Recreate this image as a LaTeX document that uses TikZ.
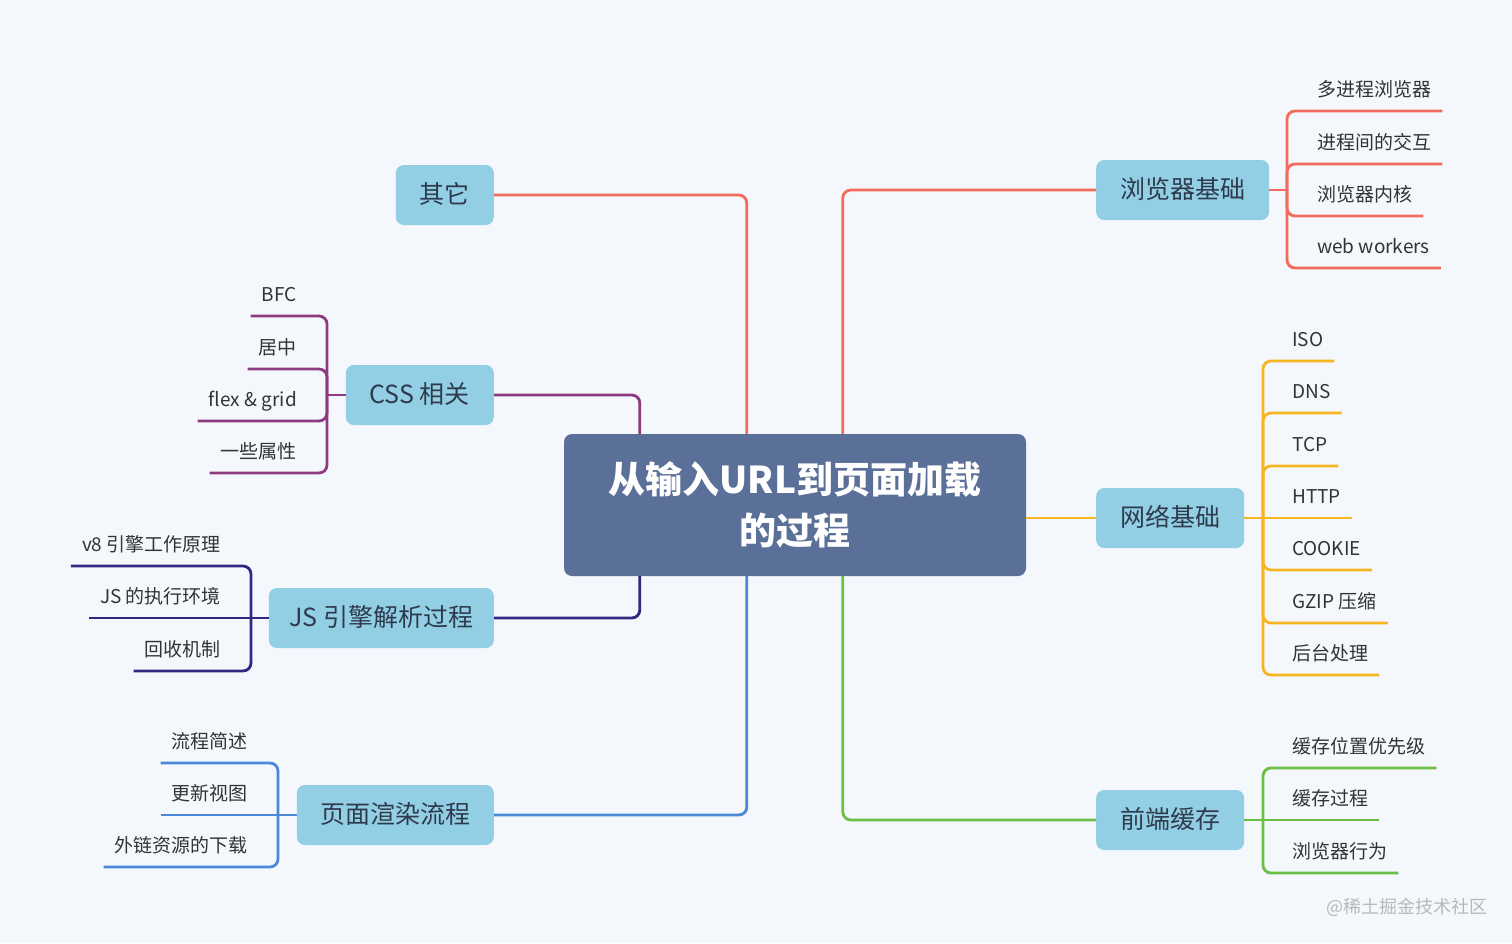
\documentclass[tikz,border=0pt]{standalone}
\usepackage{fontspec}
\setmainfont{Noto Sans CJK SC}
\definecolor{bgcol}{HTML}{F4F8FD}
\definecolor{rootfill}{HTML}{5A7098}
\definecolor{topicfill}{HTML}{92CFE5}
\definecolor{topictext}{HTML}{2F3B4D}
\definecolor{leaftext}{HTML}{333333}
\definecolor{redline}{HTML}{F26B5B}
\definecolor{cssline}{HTML}{8E3A80}
\definecolor{jsline}{HTML}{34267F}
\definecolor{blueline}{HTML}{4A89D6}
\definecolor{orangeline}{HTML}{F7B521}
\definecolor{greenline}{HTML}{6CBF45}
\definecolor{wmark}{HTML}{B8B8B8}
\begin{document}
\begin{tikzpicture}[x=1pt, y=-1pt,
    rootbox/.style={fill=rootfill, rounded corners=8pt, text=white, align=center,
        minimum width=462pt, minimum height=142pt, font=\bfseries\fontsize{37}{51}\selectfont},
    topic/.style={fill=topicfill, rounded corners=8pt, text=topictext, inner xsep=16pt, inner ysep=0pt,
        minimum height=60pt, text height=21pt, text depth=4pt, font=\fontsize{25}{30}\selectfont},
    leaf/.style={text=leaftext, inner xsep=11pt, inner ysep=9pt, text height=16pt, text depth=5pt,
        font=\fontsize{19}{23}\selectfont},
    branch/.style={line width=2.8pt, rounded corners=8pt}]
    \fill[bgcol] (0,0) rectangle (1512,943);
    \useasboundingbox (0,0) rectangle (1512,943);
    % centre
    \node[rootbox] (root) at (795,505) {从输入URL到页面加载\\的过程};
    % topics
    \node[topic, anchor=east, minimum width=98pt] (qita) at (494,195) {其它};
    \node[topic, anchor=east, minimum width=148pt] (css) at (494,395) {CSS 相关};
    \node[topic, anchor=east, minimum width=225pt] (js) at (494,618) {JS 引擎解析过程};
    \node[topic, anchor=east, minimum width=197pt] (xuanran) at (494,815) {页面渲染流程};
    \node[topic, anchor=west, minimum width=173pt] (llq) at (1096,190) {浏览器基础};
    \node[topic, anchor=west, minimum width=148pt] (wangluo) at (1096,518) {网络基础};
    \node[topic, anchor=west, minimum width=148pt] (huancun) at (1096,820) {前端缓存};
    \draw[branch, redline] (qita.east) -| ([xshift=183pt]root.north west);
    \draw[branch, redline] (llq.west) -| ([xshift=279pt]root.north west);
    \draw[branch, cssline] (css.east) -| ([xshift=76pt]root.north west);
    \draw[branch, jsline] (js.east) -| ([xshift=76pt]root.south west);
    \draw[branch, blueline] (xuanran.east) -| ([xshift=183pt]root.south west);
    \draw[branch, greenline] (huancun.west) -| ([xshift=279pt]root.south west);
    \draw[branch, orangeline] (wangluo.west) -- (wangluo.west -| root.east);
    % forks
    \coordinate (llqf) at (1287,190);
    \coordinate (wlf) at (1263,518);
    \coordinate (hcf) at (1263,820);
    \coordinate (cssf) at (327,395);
    \coordinate (jsf) at (251,618);
    \coordinate (xrf) at (278,815);
    % 浏览器基础
    \node[leaf, anchor=south west] (b1) at (1306,111) {多进程浏览器};
    \node[leaf, anchor=south west] (b2) at (1306,164) {进程间的交互};
    \node[leaf, anchor=south west] (b3) at (1306,216) {浏览器内核};
    \node[leaf, anchor=south west] (b4) at (1306,268) {web workers};
    \draw[branch, redline] (llq.east) -- (llqf);
    \draw[branch, redline] (llqf) |- (b1.south east);
    \draw[branch, redline] (llqf) |- (b2.south east);
    \draw[branch, redline] (llqf) |- (b3.south east);
    \draw[branch, redline] (llqf) |- (b4.south east);
    % 网络基础
    \node[leaf, anchor=south west] (n1) at (1281,361) {ISO};
    \node[leaf, anchor=south west] (n2) at (1281,413) {DNS};
    \node[leaf, anchor=south west] (n3) at (1281,466) {TCP};
    \node[leaf, anchor=south west] (n4) at (1281,518) {HTTP};
    \node[leaf, anchor=south west] (n5) at (1281,570) {COOKIE};
    \node[leaf, anchor=south west] (n6) at (1281,623) {GZIP 压缩};
    \node[leaf, anchor=south west] (n7) at (1281,675) {后台处理};
    \draw[branch, orangeline] (wangluo.east) -- (wlf);
    \draw[branch, orangeline] (wlf) |- (n1.south east);
    \draw[branch, orangeline] (wlf) |- (n2.south east);
    \draw[branch, orangeline] (wlf) |- (n3.south east);
    \draw[branch, orangeline] (wlf) -- (n4.south east);
    \draw[branch, orangeline] (wlf) |- (n5.south east);
    \draw[branch, orangeline] (wlf) |- (n6.south east);
    \draw[branch, orangeline] (wlf) |- (n7.south east);
    % 前端缓存
    \node[leaf, anchor=south west] (h1) at (1281,768) {缓存位置优先级};
    \node[leaf, anchor=south west] (h2) at (1281,820) {缓存过程};
    \node[leaf, anchor=south west] (h3) at (1281,873) {浏览器行为};
    \draw[branch, greenline] (huancun.east) -- (hcf);
    \draw[branch, greenline] (hcf) |- (h1.south east);
    \draw[branch, greenline] (hcf) -- (h2.south east);
    \draw[branch, greenline] (hcf) |- (h3.south east);
    % CSS 相关
    \node[leaf, anchor=south east] (s1) at (308,316) {BFC};
    \node[leaf, anchor=south east] (s2) at (308,369) {居中};
    \node[leaf, anchor=south east] (s3) at (308,421) {flex \& grid};
    \node[leaf, anchor=south east] (s4) at (308,473) {一些属性};
    \draw[branch, cssline] (css.west) -- (cssf);
    \draw[branch, cssline] (cssf) |- (s1.south west);
    \draw[branch, cssline] (cssf) |- (s2.south west);
    \draw[branch, cssline] (cssf) |- (s3.south west);
    \draw[branch, cssline] (cssf) |- (s4.south west);
    % JS 引擎解析过程
    \node[leaf, anchor=south east] (j1) at (232,566) {v8 引擎工作原理};
    \node[leaf, anchor=south east] (j2) at (232,618) {JS 的执行环境};
    \node[leaf, anchor=south east] (j3) at (232,671) {回收机制};
    \draw[branch, jsline] (js.west) -- (jsf);
    \draw[branch, jsline] (jsf) |- (j1.south west);
    \draw[branch, jsline] (jsf) -- (j2.south west);
    \draw[branch, jsline] (jsf) |- (j3.south west);
    % 页面渲染流程
    \node[leaf, anchor=south east] (x1) at (259,763) {流程简述};
    \node[leaf, anchor=south east] (x2) at (259,815) {更新视图};
    \node[leaf, anchor=south east] (x3) at (259,867) {外链资源的下载};
    \draw[branch, blueline] (xuanran.west) -- (xrf);
    \draw[branch, blueline] (xrf) |- (x1.south west);
    \draw[branch, blueline] (xrf) -- (x2.south west);
    \draw[branch, blueline] (xrf) |- (x3.south west);
    \node[text=wmark, font=\fontsize{18}{20}\selectfont] (wm) at (1407,907) {@稀土掘金技术社区};
\end{tikzpicture}
\end{document}
